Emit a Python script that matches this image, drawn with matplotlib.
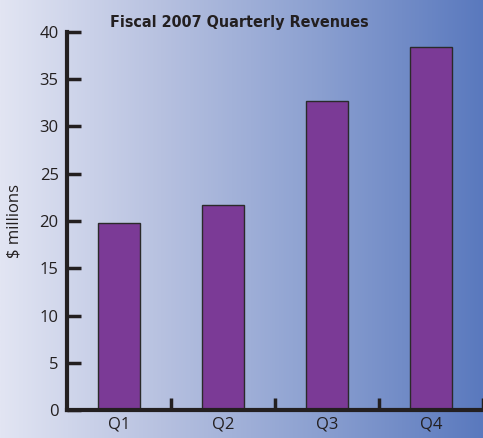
import numpy as np
import matplotlib.pyplot as plt
from matplotlib.colors import LinearSegmentedColormap

quarters = ['Q1', 'Q2', 'Q3', 'Q4']
revenues = [19.8, 21.7, 32.7, 38.4]
yticks = [0, 5, 10, 15, 20, 25, 30, 35, 40]

W, H = 483, 438
fig = plt.figure(figsize=(W / 100, H / 100), dpi=100)
plt.rcParams['font.family'] = ['Open Sans', 'DejaVu Sans']

# background gradient
bg = fig.add_axes([0, 0, 1, 1], zorder=0)
grad = LinearSegmentedColormap.from_list('bg', ['#e2e5f3', '#b7c1e0', '#8a9fd0', '#5a79be'])
bg.imshow(np.linspace(0, 1, 256)[None, :], aspect='auto', cmap=grad, extent=[0, 1, 0, 1])
bg.axis('off')

ax = fig.add_axes([67 / W, 1 - 410 / H, 416 / W, 378 / H], zorder=1)
ax.patch.set_alpha(0)
x = np.arange(len(quarters))
ax.bar(x, revenues, width=0.4, color='#7b3a96', edgecolor='#2a2a2a', linewidth=1)

ax.set_xlim(-0.5, 3.5)
ax.set_ylim(0, 40)
ax.set_yticks(yticks)
ax.tick_params(axis='y', direction='in', length=10, width=2.5, color='#231f20',
               labelsize=12, labelcolor='#231f20', pad=6)
ax.set_xticks([0.5, 1.5, 2.5, 3.5])
ax.set_xticklabels([])
ax.tick_params(axis='x', direction='in', length=9, width=2.5, color='#231f20')
ax.set_xticks(x, minor=True)
ax.set_xticklabels(quarters, minor=True)
ax.tick_params(axis='x', which='minor', length=0, labelsize=12, labelcolor='#231f20', pad=5)

for s in ['top', 'right']:
    ax.spines[s].set_visible(False)
for s in ['left', 'bottom']:
    ax.spines[s].set_linewidth(3)
    ax.spines[s].set_color('#231f20')

ax.set_ylabel('$ millions', fontsize=12, color='#231f20', labelpad=12)

fig.text(239 / W, 1 - 22 / H, 'Fiscal 2007 Quarterly Revenues', ha='center', va='center',
         fontsize=11.5, fontweight='bold', fontstretch='condensed', color='#231f20',
         family=['DejaVu Sans'])

plt.savefig('out.png', dpi=100)
